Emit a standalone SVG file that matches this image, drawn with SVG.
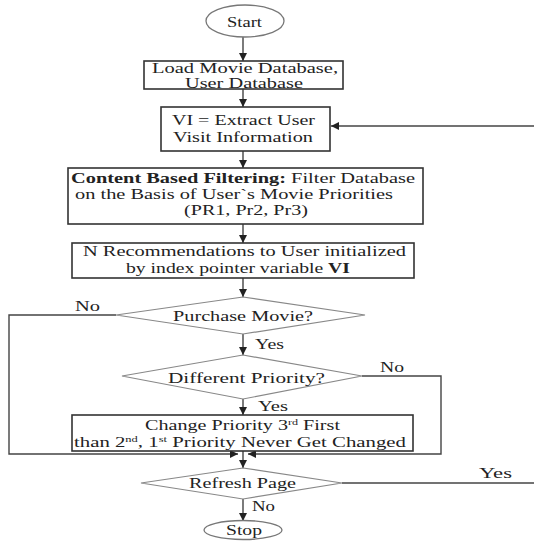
<svg xmlns="http://www.w3.org/2000/svg" width="534" height="541" viewBox="0 0 534 541">
<style>
.box{fill:#fff;stroke:#333;stroke-width:1.6}
.dia{fill:#fff;stroke:#888;stroke-width:1.2}
.ell{fill:#fff;stroke:#777;stroke-width:1.3}
.ln{fill:none;stroke:#444;stroke-width:1.4}
text{font-family:"Liberation Serif","Times New Roman",serif;font-size:15px;fill:#222}
.b{font-weight:bold}
.sup{font-size:9px}
</style>
<defs>
<marker id="ah" markerWidth="8" markerHeight="8" refX="8" refY="4" orient="auto" markerUnits="userSpaceOnUse">
<path d="M0,0 L8,4 L0,8 z" fill="#222"/>
</marker>
</defs>
<rect width="534" height="541" fill="#fff"/>
<g id="connectors">
<path class="ln" d="M243,37 V61" marker-end="url(#ah)"/>
<path class="ln" d="M243,89 V107" marker-end="url(#ah)"/>
<path class="ln" d="M534,126 H331" marker-end="url(#ah)"/>
<path class="ln" d="M243,151 V168" marker-end="url(#ah)"/>
<path class="ln" d="M243,224 V243" marker-end="url(#ah)"/>
<path class="ln" d="M243,278 V297" marker-end="url(#ah)"/>
<path class="ln" d="M243,334 V355" marker-end="url(#ah)"/>
<path class="ln" d="M243,399 V415" marker-end="url(#ah)"/>
<path class="ln" d="M243,451 V468" marker-end="url(#ah)"/>
<path class="ln" d="M243,499 V521" marker-end="url(#ah)"/>
<path class="ln" d="M116,315 H9 V454 H238" marker-end="url(#ah)"/>
<path class="ln" d="M362,376 H441 V454 H248" marker-end="url(#ah)"/>
<path class="ln" d="M342,483 H534"/>
<text x="75" y="311" textLength="25" lengthAdjust="spacingAndGlyphs">No</text>
<text x="255" y="349" textLength="29" lengthAdjust="spacingAndGlyphs">Yes</text>
<text x="380" y="372" textLength="24" lengthAdjust="spacingAndGlyphs">No</text>
<text x="258" y="411" textLength="30" lengthAdjust="spacingAndGlyphs">Yes</text>
<text x="479" y="478" textLength="33" lengthAdjust="spacingAndGlyphs">Yes</text>
<text x="252" y="511" textLength="23" lengthAdjust="spacingAndGlyphs">No</text>
</g>
<g id="start">
<ellipse class="ell" cx="245" cy="21" rx="39" ry="16"/>
<text x="227" y="27" textLength="35" lengthAdjust="spacingAndGlyphs">Start</text>
</g>
<g id="load">
<rect class="box" x="144" y="61" width="199" height="28"/>
<text x="152" y="73" textLength="186" lengthAdjust="spacingAndGlyphs">Load Movie Database,</text>
<text x="185" y="88" textLength="118" lengthAdjust="spacingAndGlyphs">User Database</text>
</g>
<g id="extract">
<rect class="box" x="161" y="107" width="169" height="44"/>
<text x="172" y="125" textLength="143" lengthAdjust="spacingAndGlyphs">VI = Extract User</text>
<text x="173" y="142" textLength="140" lengthAdjust="spacingAndGlyphs">Visit Information</text>
</g>
<g id="filter">
<rect class="box" x="68" y="168" width="355" height="56"/>
<text x="71" y="183" textLength="344" lengthAdjust="spacingAndGlyphs"><tspan class="b">Content Based Filtering:</tspan> Filter Database</text>
<text x="75" y="199" textLength="318" lengthAdjust="spacingAndGlyphs">on the Basis of User`s Movie Priorities</text>
<text x="184" y="215" textLength="124" lengthAdjust="spacingAndGlyphs">(PR1, Pr2, Pr3)</text>
</g>
<g id="recommend">
<rect class="box" x="72" y="243" width="342" height="35"/>
<text x="83" y="256" textLength="323" lengthAdjust="spacingAndGlyphs">N Recommendations to User initialized</text>
<text x="126" y="273" textLength="224" lengthAdjust="spacingAndGlyphs">by index pointer variable <tspan class="b">VI</tspan></text>
</g>
<g id="purchase">
<polygon class="dia" points="243,297 365,315 243,334 116,315"/>
<text x="173" y="321" textLength="140" lengthAdjust="spacingAndGlyphs">Purchase Movie?</text>
</g>
<g id="different">
<polygon class="dia" points="243,355 362,376 243,399 122,376"/>
<text x="168" y="383" textLength="157" lengthAdjust="spacingAndGlyphs">Different Priority?</text>
</g>
<g id="change">
<rect class="box" x="72" y="415" width="341" height="36"/>
<text x="145" y="430" textLength="195" lengthAdjust="spacingAndGlyphs">Change Priority 3<tspan class="sup" dy="-5">rd</tspan><tspan dy="5"> First</tspan></text>
<text x="74" y="447" textLength="332" lengthAdjust="spacingAndGlyphs">than 2<tspan class="sup" dy="-5">nd</tspan><tspan dy="5">, 1</tspan><tspan class="sup" dy="-5">st</tspan><tspan dy="5"> Priority Never Get Changed</tspan></text>
</g>
<g id="refresh">
<polygon class="dia" points="243,468 342,483 243,499 141,483"/>
<text x="189" y="488" textLength="107" lengthAdjust="spacingAndGlyphs">Refresh Page</text>
</g>
<g id="stop">
<ellipse class="ell" cx="243" cy="530" rx="39" ry="9.5"/>
<text x="226" y="535" textLength="36" lengthAdjust="spacingAndGlyphs">Stop</text>
</g>
</svg>
